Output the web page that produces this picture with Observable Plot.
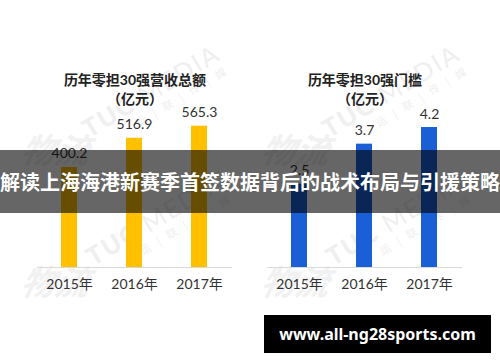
<!DOCTYPE html>
<html>
<head>
<meta charset="utf-8">
<script src="https://cdn.jsdelivr.net/npm/d3@7"></script>
<script src="https://cdn.jsdelivr.net/npm/@observablehq/plot@0.6"></script>
<style>
  body { margin: 0; background: #fff; }
  #root { position: relative; width: 500px; height: 362px; overflow: hidden; background: #fff; }
  .chart { position: absolute; top: 0; }
  .wm { position: absolute; white-space: nowrap; transform-origin: 0 100%; transform: rotate(-31deg); color: #efefef; font-family: Lato, "Noto Sans", sans-serif; line-height: 1; }
  .wm .big { font-size: 25px; letter-spacing: 2px; }
  .wm .big b { font-weight: 900; }
  .wm .small { font-family: "Noto Sans CJK SC"; font-size: 11px; letter-spacing: 3px; margin-left: 48px; margin-top: 3px; }
  .cal { position: absolute; color: #f1f1f1; font-family: "Noto Sans CJK SC"; font-weight: bold; font-style: italic; font-size: 34px; line-height: 1; transform: skewX(-12deg); }
  #banner { position: absolute; left: 0; top: 150px; width: 500px; height: 63px; background: rgba(0,0,0,0.6); color: #fff; font: bold 20px "Noto Sans CJK SC", sans-serif; display: flex; align-items: center; justify-content: center; white-space: nowrap; }
  #site { position: absolute; left: 264px; top: 315px; width: 227px; height: 38px; background: #000; color: #fff; font: bold 16px "Noto Sans", sans-serif; display: flex; align-items: center; justify-content: center; white-space: nowrap; }
</style>
</head>
<body>
<div id="root">
  <div class="cal" style="left:22px;top:132px;">物流</div>
  <div class="cal" style="left:22px;top:264px;">物流</div>
  <div class="cal" style="left:262px;top:132px;">物流</div>
  <div class="cal" style="left:262px;top:264px;">物流</div>
  <div class="wm" style="left:98px;top:114px;"><div class="big"><b>TUC</b> MEDIA</div><div class="small">运 | 联 | 传 | 媒</div></div>
  <div class="wm" style="left:102px;top:242px;"><div class="big"><b>TUC</b> MEDIA</div><div class="small">运 | 联 | 传 | 媒</div></div>
  <div class="wm" style="left:338px;top:114px;"><div class="big"><b>TUC</b> MEDIA</div><div class="small">运 | 联 | 传 | 媒</div></div>
  <div class="wm" style="left:342px;top:242px;"><div class="big"><b>TUC</b> MEDIA</div><div class="small">运 | 联 | 传 | 媒</div></div>
  <div id="left" class="chart" style="left:0;"></div>
  <div id="right" class="chart" style="left:250px;"></div>
  <div id="banner">解读上海海港新赛季首签数据背后的战术布局与引援策略</div>
  <div id="site">www.all-ng28sports.com</div>
</div>
<script>
const years = ["2015年", "2016年", "2017年"];
const revenue = [400.2, 516.9, 565.3];
const threshold = [2.5, 3.7, 4.2];
const revenueTitle = "历年零担30强营收总额\n（亿元）";
const thresholdTitle = "历年零担30强门槛\n（亿元）";

const FONT = 'Lato, "Noto Sans CJK SC", sans-serif';

function chart({values, color, yMax, title, marginLeft, marginRight}) {
  const data = years.map((year, i) => ({year, value: values[i]}));
  return Plot.plot({
    width: 250,
    height: 362,
    marginTop: 17,
    marginBottom: 95,
    marginLeft,
    marginRight,
    style: {background: "transparent", fontFamily: FONT, fontSize: "14px", color: "#333"},
    x: {domain: years, paddingInner: 0.75, paddingOuter: 0.375, align: 0.5, label: null, tickSize: 0, tickPadding: 12},
    y: {domain: [0, yMax], axis: null},
    marks: [
      Plot.barY(data, {x: "year", y: "value", fill: color}),
      Plot.ruleY([0], {stroke: "#d9d9d9", strokeWidth: 1.2}),
      Plot.text(data, {x: "year", y: "value", text: d => d.value.toFixed(1), lineAnchor: "bottom", dy: -9, fontSize: 14, fill: "#333"}),
      Plot.text([title], {frameAnchor: "top", dy: 70.5, lineAnchor: "middle", lineHeight: 1.36, fontWeight: "bold", fontSize: 14, fill: "#222"})
    ]
  });
}

document.getElementById("left").append(chart({values: revenue, color: "#FFC000", yMax: 1000, title: revenueTitle, marginLeft: 37, marginRight: 18}));
document.getElementById("right").append(chart({values: threshold, color: "#1A5FD6", yMax: 7.5, title: thresholdTitle, marginLeft: 17, marginRight: 38}));
</script>
</body>
</html>
